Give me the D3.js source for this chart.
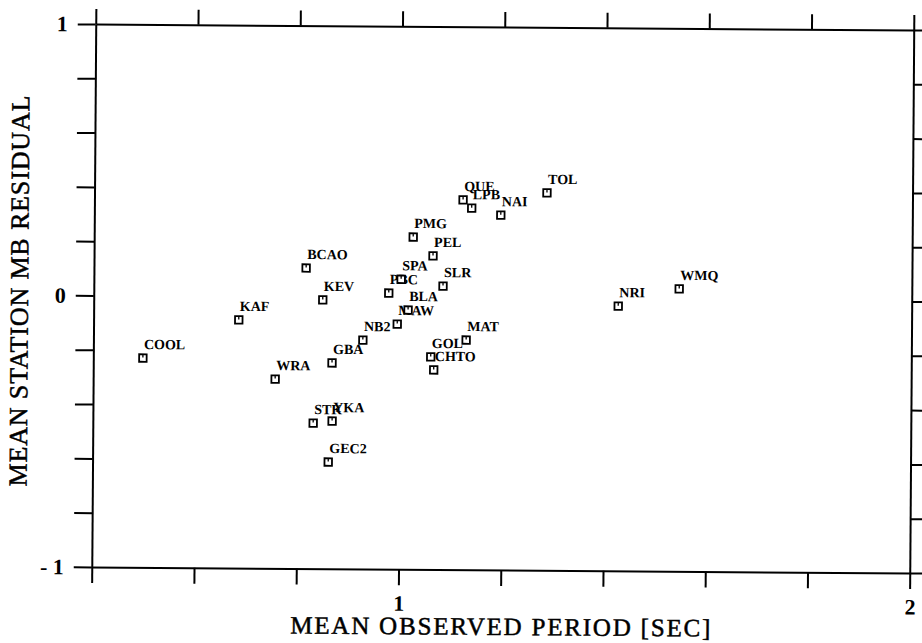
<!DOCTYPE html>
<html lang="en">
<head>
  <meta charset="UTF-8">
  <title>Mean station mb residual vs mean observed period</title>
  <script src="https://d3js.org/d3.v7.min.js"></script>
  <style>
    body {
      margin: 0;
      background: #fff;
    }

    svg {
      display: block;
      font-family: "Liberation Serif", "Times New Roman", serif;
    }
  </style>
</head>
<body>

<svg width="922" height="643"></svg>

<script>

  // station codes, mean observed period [s] and mean mb residual
  const stations = ["COOL", "KAF", "WRA", "BCAO", "KEV", "GBA", "STK", "YKA", "GEC2",
    "NB2", "PBC", "MAW", "SPA", "BLA", "PMG", "PEL", "SLR", "GOL", "CHTO", "MAT",
    "QUE", "LPB", "NAI", "TOL", "NRI", "WMQ"];
  const period = [0.497, 0.684, 0.756, 0.815, 0.848, 0.867, 0.831, 0.868, 0.861,
    0.927, 0.977, 0.994, 1.001, 1.015, 1.024, 1.063, 1.083, 1.060, 1.066, 1.129,
    1.121, 1.138, 1.195, 1.285, 1.426, 1.545];
  const residual = [-0.229, -0.086, -0.303, 0.107, -0.010, -0.242, -0.464, -0.456, -0.607,
    -0.157, 0.017, -0.097, 0.068, -0.045, 0.224, 0.155, 0.044, -0.217, -0.265, -0.154,
    0.362, 0.332, 0.307, 0.390, -0.025, 0.040];

  const xTicks = [0.4, 0.6, 0.8, 1.0, 1.2, 1.4, 1.6, 1.8, 2.0];
  const xTickLabels = ["", "", "", "1", "", "", "", "", "2"];
  const yTicks = [-1, -0.8, -0.6, -0.4, -0.2, 0, 0.2, 0.4, 0.6, 0.8, 1];
  const yTickLabels = ["- 1", "", "", "", "", "0", "", "", "", "", "1"];

  const svg = d3.select("svg");
  const margin = { top: 27, right: 10.25, bottom: 73, left: 93.75 };
  const width = +svg.attr("width");
  const height = +svg.attr("height");
  const x0 = margin.left, x1 = width - margin.right;
  const y0 = margin.top, y1 = height - margin.bottom;

  const x = d3.scaleLinear().domain([0.4, 2.0]).range([x0, x1]);
  const y = d3.scaleLinear().domain([-1, 1]).range([y1, y0]);

  // the scanned figure sits slightly skewed on the page
  const g = svg.append("g")
    .attr("transform", `rotate(0.42, ${(x0 + x1) / 2}, ${(y0 + y1) / 2})`);

  const xLab = v => xTickLabels[xTicks.findIndex(t => Math.abs(t - v) < 1e-9)];
  const yLab = v => yTickLabels[yTicks.findIndex(t => Math.abs(t - v) < 1e-9)];

  g.append("g")
    .attr("transform", `translate(0,${y1})`)
    .call(d3.axisBottom(x).tickValues(xTicks).tickFormat(xLab).tickSize(16).tickSizeOuter(0).tickPadding(10));

  g.append("g")
    .attr("transform", `translate(0,${y0})`)
    .call(d3.axisTop(x).tickValues(xTicks).tickFormat("").tickSize(15).tickSizeOuter(0));

  g.append("g")
    .attr("transform", `translate(${x0},0)`)
    .call(d3.axisLeft(y).tickValues(yTicks).tickFormat(yLab).tickSize(18).tickSizeOuter(0).tickPadding(10));

  g.append("g")
    .attr("transform", `translate(${x1},0)`)
    .call(d3.axisRight(y).tickValues(yTicks).tickFormat("").tickSize(16).tickSizeOuter(0));

  g.selectAll(".domain, .tick line")
    .attr("stroke", "#000")
    .attr("stroke-width", 2);

  g.selectAll(".tick text")
    .attr("fill", "#000")
    .style("font-family", "'Liberation Serif', serif")
    .style("font-weight", "bold")
    .style("font-size", "22px");

  // axis titles
  g.append("text")
    .attr("x", (x0 + x1) / 2)
    .attr("y", 635)
    .attr("text-anchor", "middle")
    .attr("textLength", 420)
    .attr("lengthAdjust", "spacing")
    .style("font-size", "25px")
    .attr("fill", "#000")
    .attr("stroke", "#000")
    .attr("stroke-width", 0.5)
    .text("MEAN OBSERVED PERIOD [SEC]");

  g.append("text")
    .attr("transform", `translate(28,${(y0 + y1) / 2 - 4}) rotate(-90)`)
    .attr("text-anchor", "middle")
    .attr("textLength", 391)
    .attr("lengthAdjust", "spacing")
    .style("font-size", "26px")
    .attr("fill", "#000")
    .attr("stroke", "#000")
    .attr("stroke-width", 0.5)
    .text("MEAN STATION MB RESIDUAL");

  // station markers
  const pts = g.selectAll(".stn")
    .data(stations)
    .enter()
    .append("g")
    .attr("class", "stn")
    .attr("transform", (d, i) => `translate(${x(period[i])},${y(residual[i])})`);

  pts.append("rect")
    .attr("x", -3.75)
    .attr("y", -3.75)
    .attr("width", 7.5)
    .attr("height", 7.5)
    .attr("fill", "#fff")
    .attr("stroke", "#000")
    .attr("stroke-width", 1.8);

  pts.append("line")
    .attr("x1", 0).attr("x2", 0)
    .attr("y1", -3.5).attr("y2", -0.5)
    .attr("stroke", "#000")
    .attr("stroke-width", 1.3);

  pts.append("text")
    .attr("x", 1)
    .attr("y", -9)
    .style("font-size", "14px")
    .style("font-weight", "bold")
    .attr("fill", "#000")
    .text(d => d);

</script>

</body>
</html>
